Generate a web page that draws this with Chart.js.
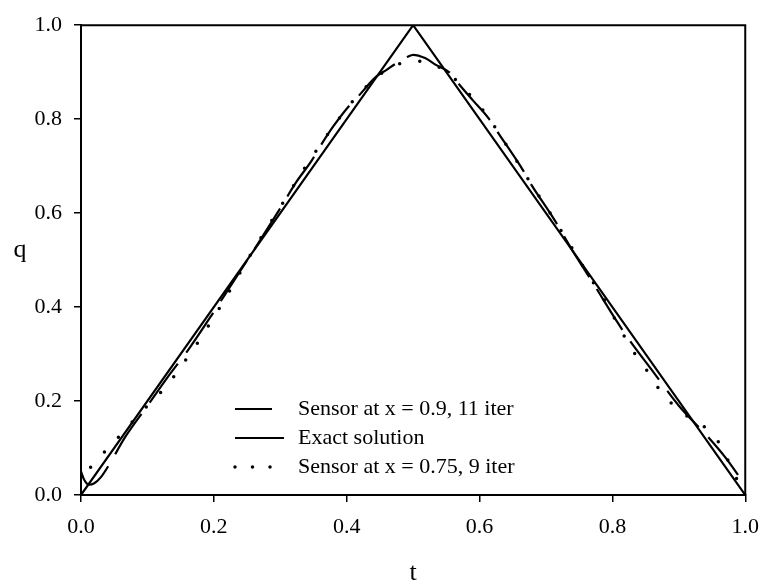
<!DOCTYPE html>
<html>
<head>
<meta charset="utf-8">
<script src="https://cdn.jsdelivr.net/npm/chart.js@4.4.1/dist/chart.umd.min.js"></script>
<style>
  html, body { margin: 0; padding: 0; background: #fff; }
  #wrap { width: 771px; height: 585px; }
</style>
</head>
<body>
<div id="wrap"><canvas id="qChart" width="771" height="585"></canvas></div>
<script>
// exact heat flux: triangular pulse
const tExact = [0, 0.5, 1];
const qExact = [0, 1, 0];

// reconstruction, sensor at x = 0.9 (11 iterations)
const tSensor09 = [0, 0.005, 0.012, 0.02, 0.03, 0.043, 0.065, 0.1, 0.13, 0.162, 0.2, 0.216, 0.243, 0.27, 0.298, 0.325,
  0.347, 0.36, 0.38, 0.404, 0.417, 0.444, 0.46, 0.476, 0.492, 0.5, 0.518, 0.535, 0.555, 0.567, 0.59, 0.614, 0.627,
  0.666, 0.676, 0.713, 0.74, 0.77, 0.807, 0.82, 0.862, 0.9, 0.943, 0.97, 0.988, 1.0];
const qSensor09 = [0.05, 0.032, 0.022, 0.025, 0.038, 0.066, 0.12, 0.19, 0.25, 0.31, 0.39, 0.425, 0.484, 0.543, 0.606, 0.668,
  0.711, 0.742, 0.785, 0.829, 0.848, 0.89, 0.905, 0.92, 0.933, 0.937, 0.93, 0.915, 0.899, 0.878, 0.84, 0.801, 0.773,
  0.69, 0.665, 0.585, 0.52, 0.453, 0.369, 0.341, 0.261, 0.19, 0.125, 0.08, 0.045, 0.02];

// reconstruction, sensor at x = 0.75 (9 iterations)
const tSensor075 = [0, 0.023, 0.048, 0.072, 0.096, 0.121, 0.142, 0.16, 0.177, 0.193, 0.209, 0.23, 0.253, 0.3, 0.349,
  0.403, 0.43, 0.455, 0.48, 0.5, 0.528, 0.555, 0.58, 0.61, 0.645, 0.681, 0.713, 0.745, 0.76, 0.79, 0.815, 0.834,
  0.852, 0.869, 0.891, 0.915, 0.942, 0.962, 0.975, 0.987, 1.0];
const qSensor075 = [0.035, 0.073, 0.11, 0.148, 0.184, 0.22, 0.256, 0.292, 0.327, 0.363, 0.399, 0.45, 0.506, 0.613, 0.722,
  0.828, 0.87, 0.9, 0.918, 0.924, 0.918, 0.895, 0.86, 0.81, 0.735, 0.655, 0.585, 0.512, 0.477, 0.41, 0.345, 0.3,
  0.265, 0.228, 0.192, 0.165, 0.141, 0.108, 0.071, 0.035, 0.005];

const axisTicks = [0, 0.2, 0.4, 0.6, 0.8, 1.0];

const toPoints = (xs, ys) => xs.map((x, i) => ({ x, y: ys[i] }));

Chart.defaults.font.family = '"Liberation Serif", "Times New Roman", serif';
Chart.defaults.color = '#000';

const FONT = '"Liberation Serif", "Times New Roman", serif';

// legend sits inside the plot, bottom middle
const legendBox = { x: 235, y: 409, gap: 29, textX: 298, sampleLen: [37, 49, 36] };

const framePlugin = {
  id: 'framePlugin',
  afterDraw(chart) {
    const { ctx, chartArea: a } = chart;
    ctx.save();
    ctx.strokeStyle = '#000';
    ctx.lineWidth = 2;
    ctx.setLineDash([]);
    ctx.beginPath();
    ctx.moveTo(a.left, a.top);
    ctx.lineTo(a.right, a.top);
    ctx.lineTo(a.right, a.bottom);
    ctx.stroke();

    // legend rows
    chart.data.datasets.forEach((ds, i) => {
      const y = legendBox.y + i * legendBox.gap;
      ctx.lineWidth = ds.borderWidth;
      ctx.lineCap = ds.borderCapStyle || 'butt';
      ctx.setLineDash(ds.legendDash || []);
      ctx.lineDashOffset = 0;
      ctx.beginPath();
      ctx.moveTo(legendBox.x, y);
      ctx.lineTo(legendBox.x + legendBox.sampleLen[i], y);
      ctx.stroke();
      ctx.setLineDash([]);
      ctx.fillStyle = '#000';
      ctx.font = '22px ' + FONT;
      ctx.textAlign = 'left';
      ctx.textBaseline = 'middle';
      ctx.fillText(ds.label, legendBox.textX, y);
    });

    // axis titles
    ctx.font = '26px ' + FONT;
    ctx.textAlign = 'center';
    ctx.textBaseline = 'middle';
    ctx.fillText('q', 20, 250);
    ctx.fillText('t', (a.left + a.right) / 2, 573);
    ctx.restore();
  }
};

const axisStyle = {
  type: 'linear',
  min: 0,
  max: 1,
  afterBuildTicks: scale => { scale.ticks = axisTicks.map(v => ({ value: v })); },
  grid: { drawOnChartArea: false, drawTicks: true, tickLength: 7, color: '#000', lineWidth: 1.5 },
  border: { display: true, color: '#000', width: 2 },
  ticks: {
    font: { size: 22 },
    color: '#000',
    callback: v => Number(v).toFixed(1)
  }
};

new Chart(document.getElementById('qChart'), {
  type: 'line',
  data: {
    datasets: [
      {
        label: 'Sensor at x = 0.9, 11 iter',
        data: toPoints(tSensor09, qSensor09),
        borderColor: '#000',
        borderWidth: 2.2,
        borderDash: [48, 14],
        borderDashOffset: 4.4,
        legendDash: [],
        cubicInterpolationMode: 'monotone',
        pointRadius: 0
      },
      {
        label: 'Exact solution',
        data: toPoints(tExact, qExact),
        borderColor: '#000',
        borderWidth: 2.2,
        tension: 0,
        pointRadius: 0
      },
      {
        label: 'Sensor at x = 0.75, 9 iter',
        data: toPoints(tSensor075, qSensor075),
        borderColor: '#000',
        borderWidth: 3.5,
        borderDash: [0, 20.5],
        borderDashOffset: 5.7,
        legendDash: [0, 17.5],
        borderCapStyle: 'round',
        cubicInterpolationMode: 'monotone',
        pointRadius: 0
      }
    ]
  },
  options: {
    responsive: false,
    animation: false,
    layout: { padding: { top: 17, right: 16, left: 0, bottom: 0 } },
    plugins: { legend: { display: false }, tooltip: { enabled: false } },
    scales: {
      x: Object.assign({}, axisStyle, {
        ticks: Object.assign({}, axisStyle.ticks, { padding: 12, maxRotation: 0 }),
        afterFit: scale => { scale.height = 90; }
      }),
      y: Object.assign({}, axisStyle, {
        ticks: Object.assign({}, axisStyle.ticks, { padding: 12 }),
        afterFit: scale => { scale.width = 81; }
      })
    }
  },
  plugins: [framePlugin]
});
</script>
</body>
</html>
